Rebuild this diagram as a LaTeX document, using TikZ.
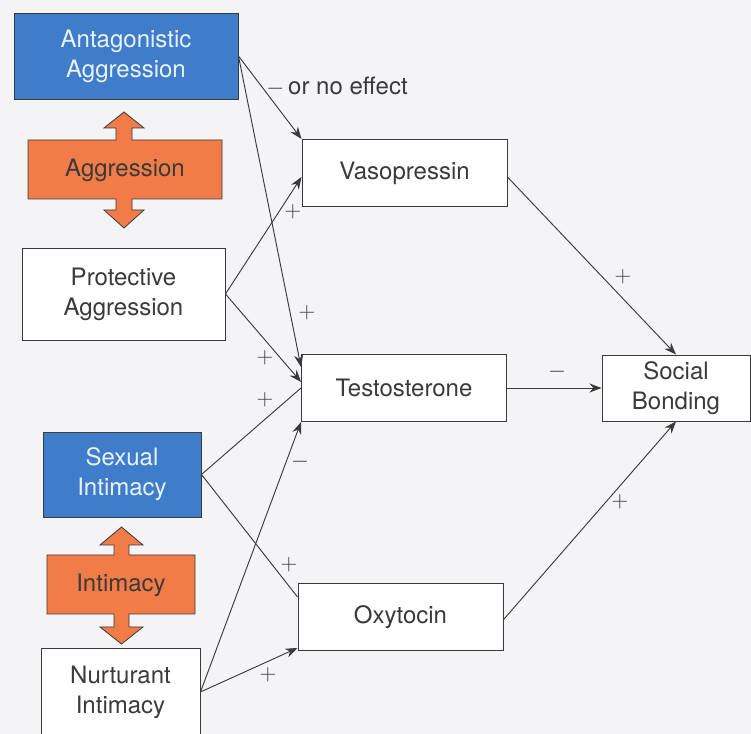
\documentclass[tikz,border=0pt]{standalone}
\usepackage{fontspec}
\setmainfont{TeX Gyre Heros}
\usepackage{xcolor}
\usetikzlibrary{arrows.meta}
\definecolor{boxblue}{HTML}{3F7DCA}
\definecolor{boxorange}{HTML}{F27C48}
\definecolor{inkgray}{HTML}{3A3A3A}
\definecolor{paper}{HTML}{F4F4F7}
\definecolor{paletext}{HTML}{EAF2FF}

\begin{document}
\begin{tikzpicture}[x=0.75pt,y=-0.75pt]
\tikzset{>={Stealth[width=2.4mm,length=3.2mm]}}
\tikzstyle{hbox}=[draw=inkgray, fill=white, line width=0.7pt, align=center, inner sep=0pt, text=inkgray, font=\fontsize{18}{22.5}\selectfont]
\tikzstyle{bluebox}=[hbox, fill=boxblue, text=paletext]
\tikzstyle{lab}=[inner sep=0pt, text=inkgray, font=\fontsize{18}{22.5}\selectfont]
\tikzstyle{conn}=[draw=inkgray, line width=0.7pt]

\fill[paper] (0,0) rectangle (751,734);
\useasboundingbox (0,0) rectangle (751,734);

% behaviours
\node[bluebox, minimum width=168pt, minimum height=64.5pt](antagg) at (126,56){Antagonistic\\Aggression};
\node[hbox, minimum width=152.25pt, minimum height=69pt](protagg) at (123.5,294){Protective\\Aggression};
\node[bluebox, minimum width=118.5pt, minimum height=63.75pt](sexint) at (122,474.5){Sexual\\Intimacy};
\node[hbox, minimum width=119.25pt, minimum height=66pt](nurint) at (120.5,692){Nurturant\\Intimacy};

% double arrows
\draw[fill=boxorange, draw=inkgray, line width=0.6pt] (28,140) -- (116,140) -- (116,128) -- (104,128) -- (124,112) -- (144,128) -- (132,128) -- (132,140) -- (222,140) -- (222,199) -- (132,199) -- (132,210) -- (144,210) -- (124,228) -- (104,210) -- (116,210) -- (116,199) -- (28,199) -- cycle;
\draw[fill=boxorange, draw=inkgray, line width=0.6pt] (47,555) -- (114,555) -- (114,545) -- (100,545) -- (121.5,527) -- (143,545) -- (129,545) -- (129,555) -- (195,555) -- (195,614) -- (129,614) -- (129,627) -- (143,627) -- (121.5,644) -- (100,627) -- (114,627) -- (114,614) -- (47,614) -- cycle;
\node[lab](aggr) at (125,170){Aggression};
\node[lab](intim) at (121,585){Intimacy};

% hormones
\node[hbox, minimum width=153.75pt, minimum height=50.25pt](vaso) at (404.5,173){Vasopressin};
\node[hbox, minimum width=153.75pt, minimum height=50.25pt](testo) at (404,388){Testosterone};
\node[hbox, minimum width=153.75pt, minimum height=50.25pt](oxy) at (400.5,617){Oxytocin};
\node[hbox, minimum width=111pt, minimum height=49.5pt](social) at (676,388){Social\\Bonding};

\draw[conn,->] (antagg.east) -- (vaso.north west);
\draw[conn,->] (antagg.east) -- ([yshift=-9.75pt]testo.north west);
\draw[conn,->] (protagg.east) -- ([yshift=-3pt]vaso.west);
\draw[conn,->] (protagg.east) -- ([yshift=4.5pt]testo.west);
\draw[conn] (sexint.east) -- (testo.west);
\draw[conn] (sexint.east) -- ([yshift=-10.5pt]oxy.north west);
\draw[conn,->] (nurint.east) -- (testo.south west);
\draw[conn,->] (nurint.east) -- ([yshift=2.25pt]oxy.south west);
\draw[conn,->] ([yshift=-3pt]vaso.east) -- (social.north);
\draw[conn,->] (testo.east) -- (social.west);
\draw[conn,->] ([yshift=-2pt]oxy.east) -- (social.south);

% signs
\node[lab](noeff) at (337,87){$-$\,or no effect};
\node[lab](s1) at (293,212){$+$};
\node[lab](s2) at (307,313){$+$};
\node[lab](s3) at (265,358){$+$};
\node[lab](s4) at (265,400){$+$};
\node[lab](s5) at (300,462){$-$};
\node[lab](s6) at (289,565){$+$};
\node[lab](s7) at (268,675){$+$};
\node[lab](s8) at (623,277){$+$};
\node[lab](s9) at (557,372){$-$};
\node[lab](s10) at (620,502){$+$};
\end{tikzpicture}
\end{document}
